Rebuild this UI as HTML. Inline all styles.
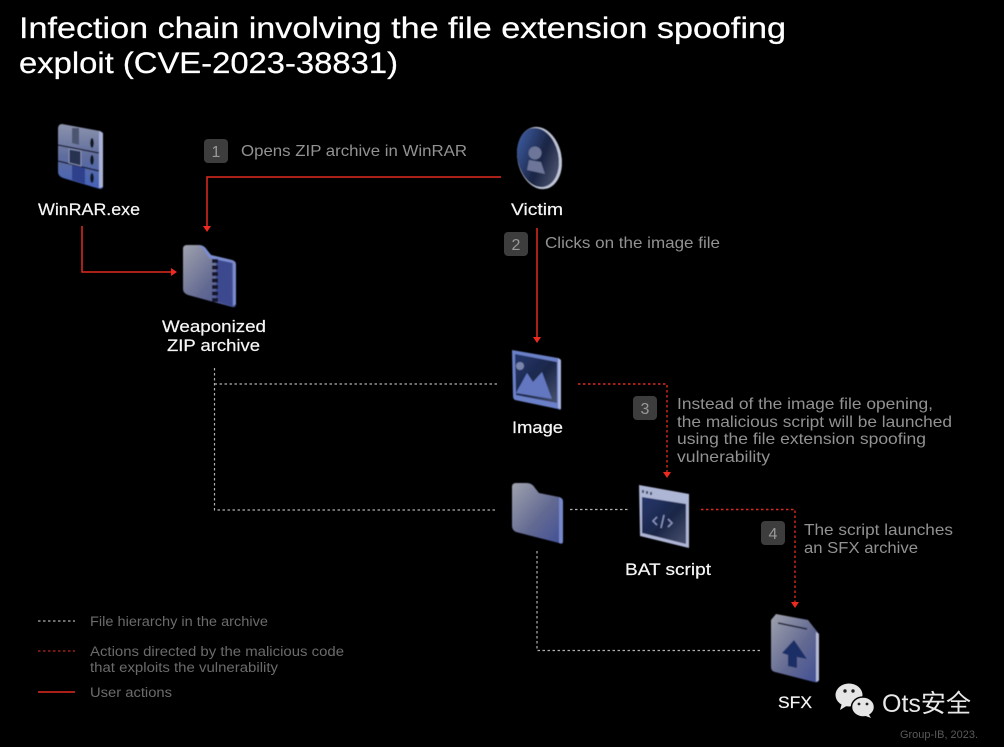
<!DOCTYPE html>
<html><head><meta charset="utf-8">
<style>
html,body{margin:0;padding:0;background:#000;width:1004px;height:747px;overflow:hidden}
svg{display:block}
text{font-family:"Liberation Sans","Noto Sans CJK SC",sans-serif}
.t{fill:#fff;font-size:30px;stroke:#fff;stroke-width:.25}
.l{fill:#f6f6f6;font-size:17px;stroke:#f6f6f6;stroke-width:.2}
.d{fill:#929292;font-size:16px}
.g{fill:#6b6b6b;font-size:13.5px}
.n{fill:#999;font-size:16px;text-anchor:middle}
</style></head><body>
<svg width="1004" height="747" viewBox="0 0 1004 747" xmlns="http://www.w3.org/2000/svg">
<defs>
<linearGradient id="a" x1="0" y1="0" x2="1" y2="1"><stop offset="0" stop-color="#a0a2ae"/><stop offset=".55" stop-color="#636a92"/><stop offset="1" stop-color="#414f96"/></linearGradient>
<linearGradient id="w" x1="0" y1="0" x2="0" y2="1"><stop offset="0" stop-color="#8c93ac"/><stop offset=".5" stop-color="#5f6d9e"/><stop offset="1" stop-color="#4462ba"/></linearGradient>
<linearGradient id="c" x1="0" y1="0" x2="1" y2="1"><stop offset="0" stop-color="#24366c"/><stop offset=".55" stop-color="#1c2748"/><stop offset="1" stop-color="#4a5270"/></linearGradient>
<linearGradient id="e" x1="0" y1="0" x2="1" y2="1"><stop offset="0" stop-color="#4468b4"/><stop offset=".55" stop-color="#1a2444"/><stop offset="1" stop-color="#5f667f"/></linearGradient>
<filter id="s" x="-10%" y="-10%" width="120%" height="120%"><feGaussianBlur stdDeviation=".45"/></filter>
</defs>
<rect width="1004" height="747" fill="#000"/>

<!-- title -->
<text class="t" x="19" y="38" textLength="767" lengthAdjust="spacingAndGlyphs">Infection chain involving the file extension spoofing</text>
<text class="t" x="19" y="73" textLength="379" lengthAdjust="spacingAndGlyphs">exploit (CVE-2023-38831)</text>

<!-- white dotted -->
<g fill="none" stroke="#b0b0b0" stroke-width="1.200" stroke-dasharray="2.500 2.500">
<path d="M214.500 368V510H495"/>
<path d="M214.500 384H498"/>
<path d="M570 509.500H630"/>
<path d="M537 551V650.500H762"/>
<path d="M38 621H75"/>
</g>
<!-- red dotted -->
<g fill="none" stroke="#d82a20" stroke-width="1.400" stroke-dasharray="2.500 2.500">
<path d="M578 384H667V472"/>
<path d="M701 509.500H795V602"/>
</g>
<path d="M38 651H75" fill="none" stroke="#b8261d" stroke-width="1.200" stroke-dasharray="2.500 2.500"/>
<!-- red solid -->
<g fill="none" stroke="#e02a20" stroke-width="1.500">
<path d="M501 177H207V226"/>
<path d="M82 226V272H171"/>
<path d="M537 228V337"/>
<path d="M38 692H75"/>
</g>
<g fill="#ee2a20">
<path d="M203 226H211L207 232Z"/>
<path d="M171 268L177 272 171 276Z"/>
<path d="M533 337H541L537 343Z"/>
<path d="M663 472H671L667 478Z"/>
<path d="M791 602H799L795 608Z"/>
</g>

<g filter="url(#s)">
<!-- WinRAR icon -->
<g>
<path d="M62 124L100 131Q103 132 103 135V186Q103 189 100 189L63 178Q58 176 58 172V129Q58 124 62 124Z" fill="url(#w)"/>
<path d="M99 131L103 133V187L99 188Z" fill="#a9b3d8"/>
<path d="M58 145L99 153M58 161L99 171" stroke="#0e101b" stroke-width="1.400"/>
<path d="M72 128H79V145L72 143Z" fill="#4b5470"/>
<path d="M69 149L81 151V166L69 163Z" fill="#28314f" stroke="#8892b8"/>
<path d="M72 165L85 168V184L72 180Z" fill="#2e418c"/>
<ellipse cx="92" cy="143" rx="1.800" ry="5" fill="#10131f"/>
<ellipse cx="92" cy="160" rx="1.800" ry="5" fill="#10131f"/>
<ellipse cx="92" cy="178" rx="1.800" ry="5" fill="#10131f"/>
</g>

<!-- zip -->
<g>
<path d="M187 245H199Q204 245 207 250L211 255L232 260Q236 261 236 265V304Q236 308 232 307L188 295Q183 293 183 289V249Q183 245 187 245Z" fill="url(#a)"/>
<path d="M216 258L232 261V306L216 301Z" fill="#3c4a8e"/>
<path d="M199 245Q204 245 207 250L211 255L232 260Q236 261 236 265V304L233 306V263L209 258L203 249Z" fill="#7a8cd0"/>
<path d="M215 259V303" stroke="#13182d" stroke-width="6" stroke-dasharray="4 2.500"/>
</g>

<!-- victim -->
<g>
<ellipse cx="539.500" cy="158" rx="22" ry="31.500" transform="rotate(-12 539.500 158)" fill="#c0c6d8"/>
<ellipse cx="538" cy="157.500" rx="20.500" ry="30" transform="rotate(-12 538 157.500)" fill="url(#e)"/>
<circle cx="535" cy="153" r="6.500" fill="#6d7698"/>
<path d="M529 160L541 162L545 174L527 170Z" fill="#6d7698"/>
</g>

<!-- image -->
<g>
<path d="M512 350L558 358Q561 359 561 362V408Q561 411 558 409L515 400Q513 399 513 396Z" fill="#6a80c8"/>
<path d="M515 354L557 362V403L516 395Z" fill="url(#c)"/>
<path d="M516 393L527 373L533 382L542 372L552 399Z" fill="#6277bf"/>
<circle cx="520" cy="366" r="4" fill="#7a86ad"/>
<path d="M558 358L561 360V409L558 408Z" fill="#a9b4e0"/>
</g>

<!-- folder -->
<path d="M516 483H527Q532 483 535 488L539 493L559 497Q563 498 563 502V541Q563 545 559 543L516 532Q512 530 512 526V487Q512 483 516 483Z" fill="url(#a)"/>
<path d="M559 497Q563 498 563 502V541Q563 545 559 543Z" fill="#7688cc"/>

<!-- BAT -->
<g>
<path d="M639 485L689 494V548L640 536Z" fill="#aeb6d6"/>
<path d="M642 497L686 504V544L642 533Z" fill="url(#c)"/>
<path d="M642 490h2v3h-2zM646 491h2v3h-2zM650 492h2v3h-2z" fill="#39405c"/>
<path d="M657 517L653 521L657 525M668 519L672 523L668 527M664 515L661 528" fill="none" stroke="#8d97c4" stroke-width="1.400"/>
</g>

<!-- SFX -->
<g>
<path d="M776 614L808 620L819 634V680Q819 683 814 682L775 672Q771 671 771 667V620Z" fill="url(#a)"/>
<path d="M816 632L819 634V680L816 682Z" fill="#b5bbd6"/>
<path d="M778 623L807 629" stroke="#1a1e33" stroke-width="1.500"/>
<path d="M794 640L807 659L797 657V668L788 666V655L782 653Z" fill="#1f2f66"/>
</g>
</g>

<!-- labels -->
<text class="l" x="38" y="215" textLength="102" lengthAdjust="spacingAndGlyphs">WinRAR.exe</text>
<text class="l" x="162" y="332" textLength="104" lengthAdjust="spacingAndGlyphs">Weaponized</text>
<text class="l" x="167" y="351" textLength="93" lengthAdjust="spacingAndGlyphs">ZIP archive</text>
<text class="l" x="511" y="215" textLength="52" lengthAdjust="spacingAndGlyphs">Victim</text>
<text class="l" x="512" y="433" textLength="51" lengthAdjust="spacingAndGlyphs">Image</text>
<text class="l" x="625" y="575" textLength="86" lengthAdjust="spacingAndGlyphs">BAT script</text>
<text class="l" x="778" y="708" textLength="34" lengthAdjust="spacingAndGlyphs">SFX</text>

<!-- badges -->
<g fill="#3d3d3d">
<rect x="204" y="139" width="24" height="24" rx="4"/>
<rect x="504" y="232" width="24" height="24" rx="4"/>
<rect x="633" y="396" width="24" height="24" rx="4"/>
<rect x="761" y="521" width="24" height="24" rx="4"/>
</g>
<text class="n" x="216" y="157">1</text>
<text class="n" x="516" y="250">2</text>
<text class="n" x="645" y="414">3</text>
<text class="n" x="773" y="539">4</text>

<!-- descriptions -->
<text class="d" x="241" y="156" textLength="226" lengthAdjust="spacingAndGlyphs">Opens ZIP archive in WinRAR</text>
<text class="d" x="545" y="248" textLength="175" lengthAdjust="spacingAndGlyphs">Clicks on the image file</text>
<text class="d" x="677" y="409" textLength="256" lengthAdjust="spacingAndGlyphs">Instead of the image file opening,</text>
<text class="d" x="677" y="427" textLength="275" lengthAdjust="spacingAndGlyphs">the malicious script will be launched</text>
<text class="d" x="677" y="444" textLength="249" lengthAdjust="spacingAndGlyphs">using the file extension spoofing</text>
<text class="d" x="677" y="462" textLength="93" lengthAdjust="spacingAndGlyphs">vulnerability</text>
<text class="d" x="804" y="535" textLength="149" lengthAdjust="spacingAndGlyphs">The script launches</text>
<text class="d" x="804" y="553" textLength="114" lengthAdjust="spacingAndGlyphs">an SFX archive</text>

<!-- legend -->
<text class="g" x="90" y="626" textLength="178" lengthAdjust="spacingAndGlyphs">File hierarchy in the archive</text>
<text class="g" x="90" y="656" textLength="254" lengthAdjust="spacingAndGlyphs">Actions directed by the malicious code</text>
<text class="g" x="90" y="672" textLength="188" lengthAdjust="spacingAndGlyphs">that exploits the vulnerability</text>
<text class="g" x="90" y="697" textLength="82" lengthAdjust="spacingAndGlyphs">User actions</text>

<!-- watermark -->
<g>
<ellipse cx="849" cy="695" rx="13.500" ry="11.500" fill="#e6e6e6"/>
<path d="M842 703L840 710L848 705Z" fill="#e6e6e6"/>
<ellipse cx="863" cy="707" rx="11.500" ry="10" fill="#e6e6e6" stroke="#000" stroke-width="1.500"/>
<path d="M868 713L871 718L863 715Z" fill="#e6e6e6"/>
<circle cx="845" cy="691" r="1.700" fill="#222"/><circle cx="853" cy="691" r="1.700" fill="#222"/>
<circle cx="859" cy="704" r="1.400" fill="#222"/><circle cx="867" cy="704" r="1.400" fill="#222"/>
</g>
<text x="882" y="712" fill="#e8e8e8" font-size="25" textLength="89" lengthAdjust="spacingAndGlyphs">Ots安全</text>
<text x="900" y="738" fill="#5a5a5a" font-size="11" textLength="78" lengthAdjust="spacingAndGlyphs">Group-IB, 2023.</text>
</svg>
</body></html>
